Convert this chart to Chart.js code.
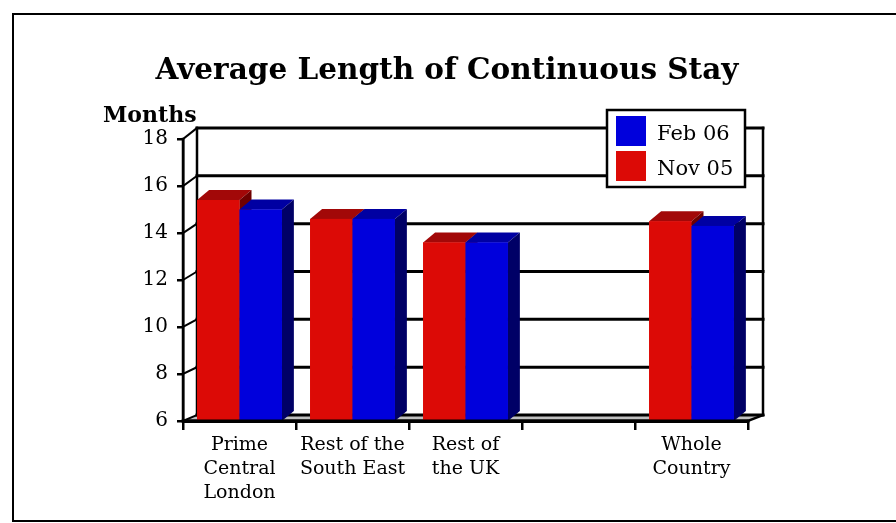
<!DOCTYPE html>
<html>
<head>
<meta charset="utf-8">
<script src="https://cdn.jsdelivr.net/npm/chart.js@4"></script>
<style>
  html, body { margin: 0; padding: 0; background: #fff; }
  #wrap { width: 896px; height: 523px; }
</style>
</head>
<body>
<div id="wrap"><canvas id="c" width="896" height="523"></canvas></div>
<script>
// Average length of continuous stay, in months
const categories = [
  ['Prime', 'Central', 'London'],
  ['Rest of the', 'South East'],
  ['Rest of', 'the UK'],
  '',
  ['Whole', 'Country']
];
const nov05 = [15.4, 14.6, 13.6, null, 14.5];
const feb06 = [15.0, 14.6, 13.6, null, 14.3];
const yTicks = [6, 8, 10, 12, 14, 16, 18];
const chartTitle = 'Average Length of Continuous Stay';
const unitLabel = 'Months';

const FONT = '"DejaVu Serif", "Liberation Serif", serif';
const RED = { front: '#dc0a06', top: '#a20808', side: '#6e0000' };
const BLUE = { front: '#0000dc', top: '#0000a2', side: '#000066' };

// depth of the box and of each bar
const WALL_DX = 14, FLOOR_DY = -6, CEIL_DY = -11;
const BAR_DX = 12, BAR_DY = -10;

function backY(yScale, v) {
  const t = (v - yScale.min) / (yScale.max - yScale.min);
  return yScale.getPixelForValue(v) + FLOOR_DY + (CEIL_DY - FLOOR_DY) * t;
}

function poly(ctx, pts, fill, stroke, lw) {
  ctx.beginPath();
  ctx.moveTo(pts[0][0], pts[0][1]);
  for (let i = 1; i < pts.length; i++) ctx.lineTo(pts[i][0], pts[i][1]);
  ctx.closePath();
  if (fill) { ctx.fillStyle = fill; ctx.fill(); }
  if (stroke) { ctx.strokeStyle = stroke; ctx.lineWidth = lw || 1; ctx.stroke(); }
}

function line(ctx, x1, y1, x2, y2, lw) {
  ctx.beginPath();
  ctx.moveTo(x1, y1);
  ctx.lineTo(x2, y2);
  ctx.strokeStyle = '#000';
  ctx.lineWidth = lw;
  ctx.stroke();
}

const box3d = {
  id: 'box3d',
  beforeDatasetsDraw(chart) {
    const { ctx, chartArea: a } = chart;
    const y = chart.scales.y;
    const L = a.left, R = a.right, B = a.bottom;
    const bL = L + WALL_DX, bR = R + WALL_DX + 1;
    ctx.save();
    ctx.lineCap = 'square';
    // floor
    const fb = backY(y, y.min);
    poly(ctx, [[L, B], [R, B], [bR, fb], [bL, fb]], '#c0c0c0', null);
    // back wall grid lines and left wall diagonals
    yTicks.forEach(v => {
      const yb = backY(y, v);
      line(ctx, bL, yb, bR, yb, 3);
      line(ctx, L, y.getPixelForValue(v), bL, yb, 2);
    });
    // wall edges
    line(ctx, bL, backY(y, y.max), bL, fb, 2.5);
    line(ctx, bR, backY(y, y.max), bR, fb, 2.5);
    line(ctx, L, y.getPixelForValue(y.max), L, B, 2.5);
    line(ctx, R, B, bR, fb, 2.5);
    line(ctx, L, B, R, B, 3);
    ctx.restore();
  },
  afterDatasetsDraw(chart) {
    const { ctx } = chart;
    const a = chart.chartArea;
    const metas = chart.getSortedVisibleDatasetMetas();
    const n = chart.data.labels.length;
    ctx.save();
    for (let i = 0; i < n; i++) {
      metas.forEach(meta => {
        const el = meta.data[i];
        const raw = chart.data.datasets[meta.index].data[i];
        if (!el || raw == null) return;
        const pal = chart.data.datasets[meta.index].palette;
        const x1 = el.x - el.width / 2, x2 = el.x + el.width / 2;
        const top = el.y, base = Math.min(el.base, a.bottom);
        poly(ctx, [[x1, top], [x2, top], [x2 + BAR_DX, top + BAR_DY], [x1 + BAR_DX, top + BAR_DY]], pal.top, null);
        poly(ctx, [[x2, top], [x2 + BAR_DX, top + BAR_DY], [x2 + BAR_DX, base + BAR_DY], [x2, base]], pal.side, null);
        ctx.fillStyle = pal.front;
        ctx.fillRect(x1, top, x2 - x1, base - top);
      });
    }
    // front edge of the floor stays on top of the bars' feet
    line(ctx, a.left, a.bottom, a.right, a.bottom, 3);
    ctx.restore();
  },
  afterDraw(chart) {
    const { ctx } = chart;
    ctx.save();
    ctx.fillStyle = '#000';
    ctx.textBaseline = 'alphabetic';

    // chart title
    ctx.font = 'bold 29.5px ' + FONT;
    ctx.textAlign = 'center';
    ctx.fillText(chartTitle, 447, 79);

    // unit label above the value axis
    ctx.font = 'bold 22px ' + FONT;
    ctx.textAlign = 'left';
    ctx.fillText(unitLabel, 103, 122);

    // legend, later series first
    const lx = 607, ly = 110, lw = 138, lh = 77;
    ctx.fillStyle = '#fff';
    ctx.fillRect(lx, ly, lw, lh);
    ctx.strokeStyle = '#000';
    ctx.lineWidth = 2.5;
    ctx.strokeRect(lx, ly, lw, lh);
    const order = chart.data.datasets.map((d, i) => i).reverse();
    ctx.font = '21px ' + FONT;
    order.forEach((di, k) => {
      const ds = chart.data.datasets[di];
      const sy = ly + 6 + k * 35;
      ctx.fillStyle = ds.backgroundColor;
      ctx.fillRect(lx + 9, sy, 30, 30);
      ctx.fillStyle = '#000';
      ctx.fillText(ds.label, lx + 50, sy + 24);
    });

    // outer frame
    ctx.lineWidth = 2;
    ctx.strokeStyle = '#000';
    ctx.strokeRect(13, 14, 900, 507);
    ctx.restore();
  }
};

new Chart(document.getElementById('c'), {
  type: 'bar',
  data: {
    labels: categories,
    datasets: [
      { label: 'Nov 05', data: nov05, backgroundColor: RED.front, palette: RED },
      { label: 'Feb 06', data: feb06, backgroundColor: BLUE.front, palette: BLUE }
    ]
  },
  options: {
    responsive: false,
    animation: false,
    layout: { padding: { left: 0, right: 148, top: 139, bottom: 0 } },
    datasets: { bar: { categoryPercentage: 0.75, barPercentage: 1.0 } },
    plugins: {
      legend: { display: false },
      tooltip: { enabled: false },
      title: { display: false }
    },
    scales: {
      x: {
        grid: { display: true, drawOnChartArea: false, offset: true, tickLength: 9, color: '#000', lineWidth: 2.5 },
        border: { display: true, color: '#000', width: 3 },
        ticks: { color: '#000', font: { family: FONT, size: 19, lineHeight: 1.26 }, padding: 3, maxRotation: 0, autoSkip: false },
        afterFit(s) { s.height = 102; }
      },
      y: {
        min: 6, max: 18,
        afterBuildTicks(s) { s.ticks = yTicks.map(v => ({ value: v })); },
        grid: { display: true, drawOnChartArea: false, tickLength: 6, color: '#000', lineWidth: 2.5 },
        border: { display: true, color: '#000', width: 2.5 },
        ticks: { color: '#000', font: { family: FONT, size: 20 }, padding: 9 },
        afterFit(s) { s.width = 183; }
      }
    }
  },
  plugins: [box3d]
});
</script>
</body>
</html>
